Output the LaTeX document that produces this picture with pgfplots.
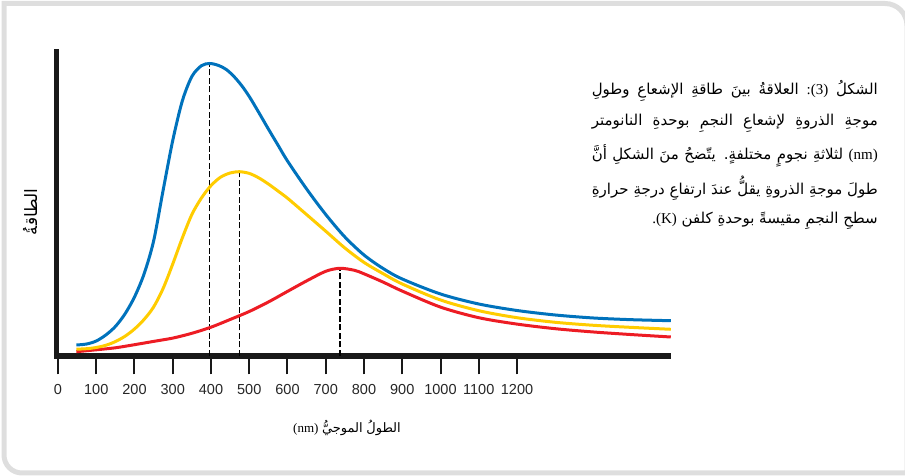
\documentclass[border=0pt]{standalone}
\usepackage{pgfplots}
\pgfplotsset{compat=1.18}
\usepackage{pgfplotstable}
\usepackage{fontspec}
\setmainfont{Liberation Sans}
\newfontfamily\arabicfont[Script=Arabic]{DejaVu Sans}
\newfontfamily\latinserif{Liberation Serif}
\TeXXeTstate=1

\definecolor{starblue}{RGB}{0,114,188}
\definecolor{staryellow}{RGB}{255,204,0}
\definecolor{starred}{RGB}{237,28,36}
\definecolor{framegray}{RGB}{222,222,222}

% wavelength (nm) against radiated energy (arbitrary units)
\pgfplotstableread{
nm E
48 11
75 12
100 15
125 21
150 29.5
175 42
200 59
225 82
250 115
275 166
300 215.5
325 255
350 279.5
375 290.3
397 292.5
420 290.5
440 286.5
460 279.5
480 270.5
500 259.5
525 243.5
550 227
575 211
600 195
650 167
700 141.5
750 119
800 101
850 87.5
900 77
1000 62
1100 52
1200 45.5
1300 41
1400 38
1500 36.3
1602 35.3
}\hotstar

\pgfplotstableread{
nm E
48 6.8
75 7.3
100 8.5
125 10.7
150 14.4
175 19.7
200 27
225 36.5
250 49
275 67.7
300 92
325 118
350 141.5
375 158
400 170.4
425 178.8
450 183
474 184.3
500 182.6
525 178.1
550 172
575 165
600 157.8
650 141.4
700 124.8
750 108
800 93.6
850 82.3
900 72
1000 56
1100 45.3
1200 38.3
1300 33.7
1400 30.7
1500 28.6
1602 26.7
}\midstar

\pgfplotstableread{
nm E
48 4.3
100 6.2
150 8.2
200 11.3
250 14.6
300 17.9
350 22.7
400 28.8
450 36.5
500 44.5
550 54
600 64.6
650 75.1
700 84.7
737 87.7
775 85.7
800 82.2
850 73.9
900 64.9
1000 48.9
1100 38.3
1200 31.9
1300 27.3
1400 24
1500 21.4
1602 19
}\coolstar

\begin{document}
\begin{tikzpicture}[x=1pt,y=1pt]
\useasboundingbox (0,0) rectangle (905,476);
% rounded panel border
\draw[framegray, line width=5pt]
  (4,240) -- (4,472.5) -- (885,472.5)
  arc[start angle=90, end angle=0, radius=22] -- (907,3)
  -- (22,3) arc[start angle=270, end angle=180, radius=18] -- cycle;

\begin{axis}[
  at={(56.5pt,120pt)}, anchor=south west,
  scale only axis, width=614.5pt, height=304.5pt,
  xmin=-3.9, xmax=1602.6, ymin=0, ymax=304.5,
  clip=false,
  axis lines=left,
  axis line style={-, line width=5.5pt, black!90},
  y axis line style={line cap=rect},
  ytick=\empty,
  xtick={0,100,...,1200},
  tick align=outside,
  major tick length=18.5pt,
  xtick style={line width=2pt, black!90},
  /pgf/number format/assume math mode=true,
  /pgf/number format/set thousands separator={},
  xticklabel style={font=\fontsize{14.5}{16}\selectfont, text=black!85, yshift=-6pt},
  xlabel={{\latinserif (nm)} {\arabicfont الموجيُّ} {\arabicfont الطولُ}},
  xlabel style={at={(axis description cs:0.4727,-0.2365)}, anchor=center,
    font=\fontsize{13}{15}\selectfont},
  ylabel={\arabicfont الطاقةُ},
  ylabel style={at={(axis description cs:-0.0431,0.473)}, anchor=center,
    font=\fontsize{17}{19}\selectfont},
]
% peak wavelength markers
\addplot[black, line width=1.2pt, dash pattern=on 6pt off 2.5pt] coordinates {(397,0) (397,292.5)};
\addplot[black, line width=1.2pt, dash pattern=on 6pt off 2.5pt] coordinates {(474,0) (474,184.3)};
\addplot[black, line width=1.2pt, dash pattern=on 6pt off 2.5pt] coordinates {(737,0) (737,87.7)};
% spectra of the three stars
\addplot[starred, line width=3pt, smooth] table[x=nm, y=E] {\coolstar};
\addplot[staryellow, line width=3pt, smooth] table[x=nm, y=E] {\midstar};
\addplot[starblue, line width=3pt, smooth] table[x=nm, y=E] {\hotstar};
\end{axis}

% caption, justified to a common measure
\begin{scope}[every node/.style={anchor=east, inner sep=0pt,
    font=\arabicfont\fontsize{15}{17}\selectfont}]
\node at (878,385) {\hbox to 286pt{\beginR الشكلُ \beginL{\latinserif :(3)}\endL{} العلاقةُ بينَ طاقةِ الإشعاعِ وطولِ\endR}};
\node at (878,352.5) {\hbox to 286pt{\beginR موجةِ الذروةِ لإشعاعِ النجمِ بوحدةِ النانومتر\endR}};
\node at (878,320) {\hbox to 286pt{\beginR\beginL{\latinserif (nm)}\endL{} لثلاثةِ نجومٍ مختلفةٍ. يتّضحُ منَ الشكلِ أنَّ\endR}};
\node at (878,287.5) {\hbox to 286pt{\beginR طولَ موجةِ الذروةِ يقلُّ عندَ ارتفاعِ درجةِ حرارةِ\endR}};
\node at (878,255) {\beginR سطحِ النجمِ مقيسةً بوحدةِ كلفن \beginL{\latinserif .(K)}\endL\endR};
\end{scope}
\end{tikzpicture}
\end{document}
